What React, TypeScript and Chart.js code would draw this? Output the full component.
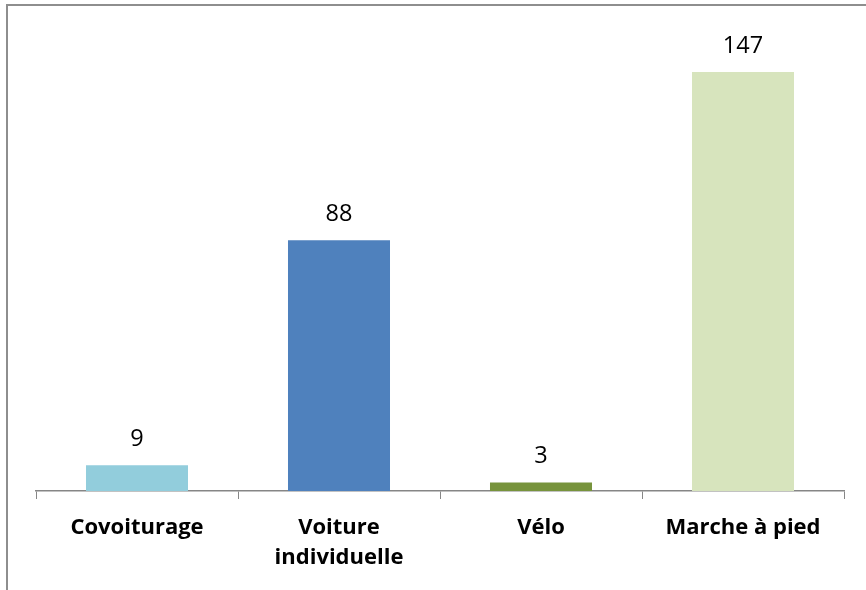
import React, { useEffect, useRef } from "react";
import { Chart, registerables } from "chart.js";

Chart.register(...registerables);

const categories: (string | string[])[] = ["Covoiturage", ["Voiture", "individuelle"], "Vélo", "Marche à pied"];
const values: number[] = [9, 88, 3, 147];
const barColors: string[] = ["#92CDDC", "#4F81BD", "#77933C", "#D7E4BD"];

const FONT = "'Open Sans', Lato, sans-serif";

const valueLabels = {
  id: "valueLabels",
  afterDatasetsDraw(chart: any) {
    const ctx = chart.ctx;
    const meta = chart.getDatasetMeta(0);
    ctx.save();
    ctx.font = `23.5px ${FONT}`;
    ctx.fillStyle = "#000000";
    ctx.textAlign = "center";
    ctx.textBaseline = "middle";
    meta.data.forEach((bar: any, i: number) => {
      ctx.fillText(String(values[i]), bar.x, bar.y - 26);
    });
    ctx.restore();
  },
};

export default function App() {
  const ref = useRef<HTMLCanvasElement | null>(null);
  useEffect(() => {
    if (!ref.current) return;
    const chart = new Chart(ref.current, {
      type: "bar",
      data: {
        labels: categories,
        datasets: [
          {
            data: values,
            backgroundColor: barColors,
            borderWidth: 0,
            categoryPercentage: 0.505,
            barPercentage: 1,
          },
        ],
      },
      options: {
        animation: false,
        responsive: false,
        maintainAspectRatio: false,
        layout: { padding: { left: 36, right: 22, top: 35, bottom: 0 } },
        plugins: {
          legend: { display: false },
          tooltip: { enabled: false },
        },
        scales: {
          x: {
            grid: {
              display: true,
              drawOnChartArea: false,
              drawTicks: true,
              tickLength: 8,
              color: "#868686",
              offset: true,
            },
            border: { display: true, color: "#868686", width: 1.5 },
            ticks: {
              color: "#000000",
              padding: 14,
              font: { family: FONT, size: 22, weight: "bold", lineHeight: "30px" },
              maxRotation: 0,
              autoSkip: false,
            },
            afterFit(scale: any) {
              scale.height = 99;
            },
          },
          y: {
            display: false,
            min: 0,
            max: 160,
          },
        },
      },
      plugins: [valueLabels],
    });
    return () => chart.destroy();
  }, []);

  return (
    <div style={{ position: "fixed", left: 0, top: 0, width: 866, height: 590, background: "#ffffff", overflow: "hidden" }}>
      <div
        style={{
          position: "absolute",
          left: 6,
          top: 4,
          width: 900,
          height: 700,
          borderLeft: "2px solid #8E8E8E",
          borderTop: "2px solid #8E8E8E",
        }}
      />
      <canvas ref={ref} width={866} height={590} style={{ position: "absolute", left: 0, top: 0 }} />
    </div>
  );
}
